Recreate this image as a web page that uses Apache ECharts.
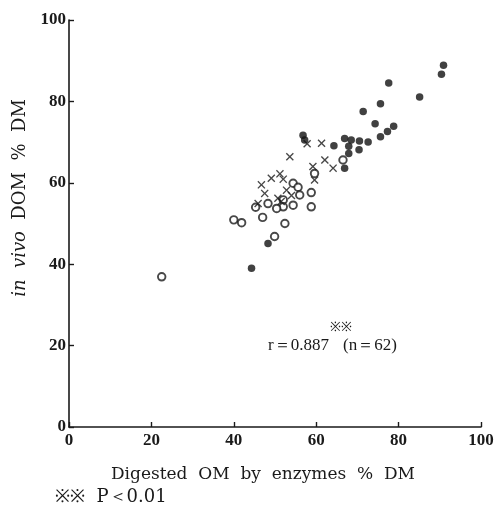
<!DOCTYPE html>
<html><head><meta charset="utf-8">
<script src="https://cdn.jsdelivr.net/npm/echarts@6/dist/echarts.min.js"></script>
<style>html,body{margin:0;padding:0;background:#fff}#c{width:499px;height:515px}</style>
</head><body><div id="c"></div>
<script>
// Filled circles
const filledPts = [
  [90.9,88.9],[90.4,86.7],[85.1,81.1],[77.6,84.5],[75.6,79.4],[71.4,77.5],
  [74.3,74.5],[78.8,73.9],[77.3,72.6],[75.6,71.3],[66.9,70.9],[68.5,70.5],
  [70.5,70.3],[72.6,70.0],[64.3,69.1],[67.9,69.0],[70.4,68.1],[67.9,67.2],
  [66.9,63.6],[56.8,71.7],[57.2,70.5],[48.3,45.1],[44.3,39.0]
];
// Cross marks
const crossPts = [
  [61.3,69.7],[62.1,65.6],[64.1,63.6],[59.2,64.0],[59.6,60.7],[53.6,66.4],
  [52.0,60.9],[52.8,58.2],[54.0,56.9],[51.2,62.2],[49.1,61.1],[46.7,59.5],
  [47.5,57.4],[50.7,56.2],[51.5,55.4],[45.9,54.9],[57.8,69.6]
];
// Open circles
const openPts = [
  [66.5,65.6],[59.6,62.3],[58.8,57.6],[58.8,54.1],[54.4,59.9],[55.6,58.9],
  [56.0,57.0],[52.0,55.8],[54.4,54.5],[52.0,54.1],[50.4,53.7],[48.3,54.9],
  [45.3,54.0],[47.0,51.5],[40.0,50.9],[41.9,50.2],[52.4,50.0],[49.9,46.8],
  [22.5,36.9]
];
const xTicks = [0,20,40,60,80,100];
const yTicks = [0,20,40,60,80,100];

const serif = '"Liberation Serif","DejaVu Serif",serif';
const wide = '"DejaVu Serif","Liberation Serif",serif';
const ink = '#1a1a1a';
const chart = echarts.init(document.getElementById('c'), null, {renderer:'canvas'});
const crossPath = 'path://M0,1.2L1.2,0L5,3.8L8.8,0L10,1.2L6.2,5L10,8.8L8.8,10L5,6.2L1.2,10L0,8.8L3.8,5Z';
chart.setOption({
  animation:false,
  backgroundColor:'#fff',
  grid:{left:69,right:18,top:20,bottom:88},
  xAxis:{
    type:'value',min:0,max:100,interval:20,
    axisLine:{show:true,onZero:false,lineStyle:{color:ink,width:1.6}},
    axisTick:{show:true,inside:true,length:5,lineStyle:{color:ink,width:1.4}},
    splitLine:{show:false},
    axisLabel:{color:ink,fontFamily:serif,fontSize:17,fontWeight:'bold',margin:5,
      formatter:function(v){return xTicks.indexOf(v)>=0?String(v):'';}}
  },
  yAxis:{
    type:'value',min:0,max:100,interval:20,
    axisLine:{show:true,onZero:false,lineStyle:{color:ink,width:1.6}},
    axisTick:{show:true,inside:true,length:5,lineStyle:{color:ink,width:1.4}},
    splitLine:{show:false},
    axisLabel:{color:ink,fontFamily:serif,fontSize:17,fontWeight:'bold',margin:3,
      formatter:function(v){return yTicks.indexOf(v)>=0?String(v):'';}}
  },
  graphic:[
    {type:'text',x:20,y:198,rotation:Math.PI/2,
      style:{text:'{i|in  vivo}{n|  DOM  %  DM}',align:'center',verticalAlign:'middle',
        rich:{i:{fontStyle:'italic',font:'italic 18px '+wide,fill:ink},
              n:{font:'18px '+wide,fill:ink}}}},
    {type:'text',x:263,y:475,style:{text:'Digested  OM  by  enzymes  %  DM',align:'center',verticalAlign:'middle',font:'17px '+wide,fill:ink}},
    {type:'text',left:268,top:337,style:{text:'r＝0.887',font:'17px '+serif,fill:ink}},
    {type:'text',left:330,top:321,style:{text:'※※',font:'13px '+serif,fill:ink}},
    {type:'text',left:343,top:337,style:{text:'(n＝62)',font:'17px '+serif,fill:ink}},
    {type:'text',left:55,top:488,style:{text:'※※  P＜0.01',font:'18px '+wide,fill:ink}}
  ],
  series:[
    {type:'scatter',data:openPts,symbol:'circle',symbolSize:7.5,
      itemStyle:{color:'#fff',borderColor:ink,borderWidth:1.9}},
    {type:'scatter',data:crossPts,symbol:crossPath,symbolSize:8,
      itemStyle:{color:ink}},
    {type:'scatter',data:filledPts,symbol:'circle',symbolSize:7.5,
      itemStyle:{color:'#111'}}
  ]
});
</script></body></html>
